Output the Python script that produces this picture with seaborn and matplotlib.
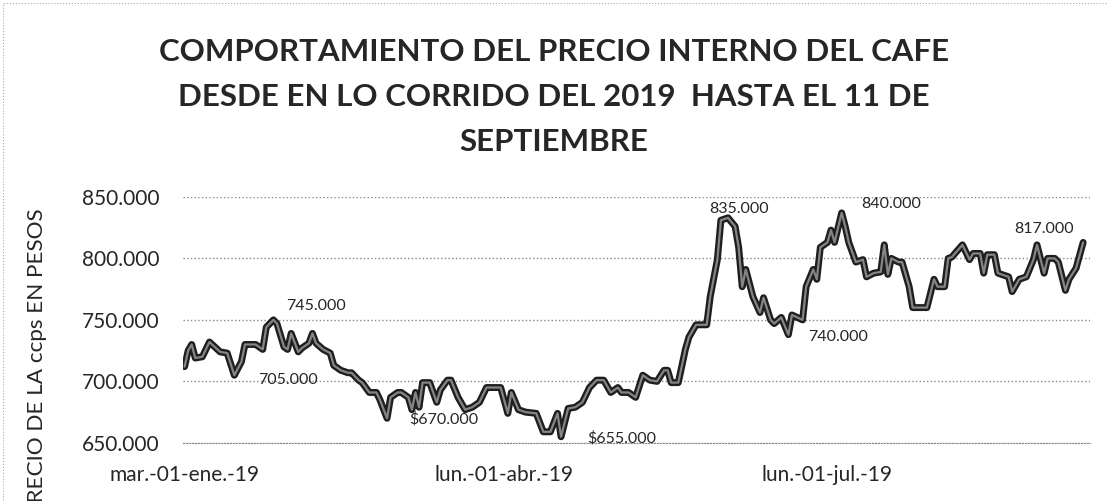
import matplotlib
matplotlib.use("Agg")
import matplotlib.pyplot as plt
import matplotlib.patches as mpatches
import pandas as pd
import seaborn as sns

# dias desde el 01-ene-2019
dias = [0, 1, 2, 3, 5, 7, 10, 12, 14, 16, 17, 20, 22, 23, 25, 26, 28, 29, 30, 32,
        33, 35, 36, 37, 39, 41, 42, 44, 46, 47, 49, 50, 52, 54, 55, 57, 58, 60, 61, 63,
        64, 65, 66, 67, 69, 71, 72, 74, 75, 77, 79, 81, 83, 85, 89, 91, 92, 94, 96, 99,
        101, 103, 105, 106, 108, 110, 112, 114, 116, 118, 120, 122, 123, 125, 127, 129, 131, 133, 135, 136,
        137, 139, 141, 142, 144, 147, 148, 150, 151, 153, 155, 156, 157, 158, 159, 160, 162, 163, 165, 166,
        168, 170, 171, 174, 175, 177, 178, 179, 181, 182, 183, 185, 186, 187, 189, 191, 192, 194, 196, 197,
        198, 199, 201, 202, 204, 205, 208, 209, 211, 212, 214, 215, 216, 219, 221, 222, 224, 225, 226, 228,
        229, 230, 232, 233, 235, 237, 239, 240, 242, 243, 245, 246, 248, 249, 251, 253]

# precio en miles de pesos por carga
precio = [712, 725, 730, 719, 720, 732, 724, 723, 705, 716, 730, 730, 726, 744, 750, 747, 728, 726, 739, 724,
          727, 731, 739, 731, 726, 723, 713, 709, 707, 707, 701, 699, 691, 691, 685, 670, 687, 691, 691, 687,
          677, 691, 679, 699, 699, 683, 693, 701, 701, 687, 677, 679, 683, 695, 695, 674, 691, 677, 675, 674,
          659, 659, 674, 655, 678, 679, 683, 695, 701, 701, 691, 695, 691, 691, 687, 705, 701, 700, 709, 709,
          699, 699, 726, 736, 746, 746, 769, 799, 831, 833, 826, 809, 777, 791, 780, 769, 756, 768, 750, 747,
          752, 738, 754, 750, 777, 791, 783, 809, 813, 823, 813, 837, 826, 813, 797, 799, 785, 788, 789, 811,
          787, 800, 797, 797, 777, 760, 760, 760, 783, 777, 777, 800, 801, 811, 799, 804, 804, 788, 803, 803,
          788, 787, 785, 773, 783, 785, 799, 811, 788, 800, 800, 797, 774, 783, 792, 813]

etiquetas = ["745.000", "705.000", "$670.000", "$655.000", "835.000", "840.000", "740.000", "817.000"]
etiq_dias = [37, 29, 73, 123, 156, 199, 184, 242]
etiq_val = [761, 701, 669, 654, 840, 844, 736, 824]

ticks_fechas = ["2019-01-01", "2019-04-01", "2019-07-01"]
ticks_texto = ["mar.-01-ene.-19", "lun.-01-abr.-19", "lun.-01-jul.-19"]

inicio = pd.Timestamp("2019-01-01")
df = pd.DataFrame({"fecha": inicio + pd.to_timedelta(dias, unit="D"),
                   "precio": [p * 1000 for p in precio]})

sns.set_style("white")
plt.rcParams["font.family"] = ["Lato", "DejaVu Sans"]

fig = plt.figure(figsize=(11.08, 5.01), dpi=100)
ax = fig.add_axes([0.165, 0.116, 0.819, 0.491])

sns.lineplot(data=df, x="fecha", y="precio", ax=ax, color="#1e1e1e", linewidth=5)
sns.lineplot(data=df, x="fecha", y="precio", ax=ax, color="#858585", linewidth=1.6)

ax.set_ylim(650000, 850000)
ax.set_yticks([650000, 700000, 750000, 800000, 850000])
ax.set_yticklabels(["650.000", "700.000", "750.000", "800.000", "850.000"], fontsize=15)
ax.set_xlim(inicio - pd.Timedelta(days=0.5), inicio + pd.Timedelta(days=255))
ax.set_xticks(pd.to_datetime(ticks_fechas))
ax.set_xticklabels(ticks_texto, fontsize=15)
ax.tick_params(axis="x", length=3, color="#999999", pad=13)
ax.tick_params(axis="y", length=0, pad=17)
ax.grid(axis="y", linestyle=":", color="#888888", linewidth=1)
for s in ["top", "right", "left"]:
    ax.spines[s].set_visible(False)
ax.spines["bottom"].set_linestyle(":")
ax.spines["bottom"].set_color("#888888")
ax.set_xlabel("")
ax.set_ylabel("")

for txt, d, v in zip(etiquetas, etiq_dias, etiq_val):
    ax.text(inicio + pd.Timedelta(days=d), v * 1000, txt, ha="center", va="center", fontsize=11.5)

fig.text(0.5, 0.806, "COMPORTAMIENTO DEL PRECIO INTERNO DEL CAFE\nDESDE EN LO CORRIDO DEL 2019  HASTA EL 11 DE\nSEPTIEMBRE",
         ha="center", va="center", fontsize=22.5, fontweight="bold", linespacing=1.75)
fig.text(0.033, 0.585, "PRECIO DE LA ccps EN PESOS", rotation=90, ha="center", va="top", fontsize=16.2)

fig.patches.append(mpatches.Rectangle((0.003, -0.1), 1.1, 1.094, transform=fig.transFigure,
                                      fill=False, linestyle=":", edgecolor="#aaaaaa", linewidth=0.8))

fig.savefig("out.png", dpi=100)
